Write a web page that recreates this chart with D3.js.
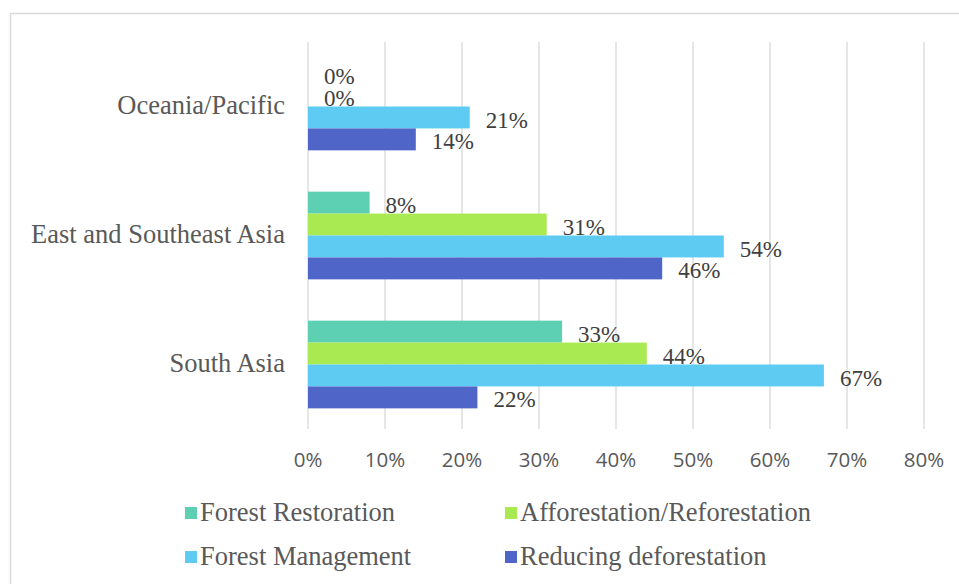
<!DOCTYPE html>
<html lang="en">
  <head>
    <meta charset="utf-8">
    <title>Forest interventions by region</title>
    <style>
      body { margin: 0; background: #fff; }
      svg { display: block; }
    </style>
    <script src="https://cdn.jsdelivr.net/npm/d3@7"></script>
  </head>
  <body>
    <div class="chart"></div>
    <script>
    // values
    const regions = ["Oceania/Pacific", "East and Southeast Asia", "South Asia"]
    const seriesNames = ["Forest Restoration", "Afforestation/Reforestation", "Forest Management", "Reducing deforestation"]
    const forestRestoration = [0, 8, 33]
    const afforestation = [0, 31, 44]
    const forestManagement = [21, 54, 67]
    const reducingDeforestation = [14, 46, 22]
    const colors = ["#5dcfb2", "#a9ea52", "#5dcbf2", "#4f66c8"]
    const xTicks = [0, 10, 20, 30, 40, 50, 60, 70, 80]

    const seriesValues = [forestRestoration, afforestation, forestManagement, reducingDeforestation]

    const width = 959, height = 584
    const plot = { left: 308, right: 924, top: 42, bottom: 429 }

    const svg = d3.select(".chart")
      .append("svg")
      .attr("width", width)
      .attr("height", height)

    // chart border
    svg.append("rect")
      .attr("x", 10.5).attr("y", 13.5)
      .attr("width", 960).attr("height", 600)
      .attr("fill", "none")
      .attr("stroke", "#d9d9d9")
      .attr("stroke-width", 1.5)

    const x = d3.scaleLinear()
      .domain([0, 80])
      .range([plot.left, plot.right])

    const y0 = d3.scaleBand()
      .domain(regions)
      .range([plot.top, plot.bottom])
      .paddingInner(0.32)
      .paddingOuter(0.16)

    const y1 = d3.scaleBand()
      .domain(seriesNames)
      .range([0, y0.bandwidth()])

    // gridlines
    svg.append("g")
      .selectAll("line")
      .data(xTicks)
      .join("line")
      .attr("x1", d => x(d)).attr("x2", d => x(d))
      .attr("y1", plot.top).attr("y2", plot.bottom)
      .attr("stroke", "#d9d9d9")
      .attr("stroke-width", 1.3)

    // x axis labels
    svg.append("g")
      .selectAll("text")
      .data(xTicks)
      .join("text")
      .attr("x", d => x(d))
      .attr("y", 467)
      .attr("text-anchor", "middle")
      .style("font-family", "'Open Sans', sans-serif")
      .style("font-size", "20.5px")
      .style("fill", "#595959")
      .text(d => d + "%")

    // category labels
    svg.append("g")
      .selectAll("text")
      .data(regions)
      .join("text")
      .attr("x", plot.left - 23)
      .attr("y", d => y0(d) + y0.bandwidth() / 2)
      .attr("dy", "0.3em")
      .attr("text-anchor", "end")
      .style("font-family", "'Liberation Serif', serif")
      .style("font-size", "26.5px")
      .style("fill", "#595959")
      .text(d => d)

    const rows = []
    regions.forEach((r, i) => {
      seriesNames.forEach((s, j) => {
        rows.push({ region: r, series: s, value: seriesValues[j][i], color: colors[j] })
      })
    })

    svg.append("g")
      .selectAll("rect")
      .data(rows)
      .join("rect")
      .attr("x", x(0))
      .attr("y", d => y0(d.region) + y1(d.series))
      .attr("width", d => x(d.value) - x(0))
      .attr("height", y1.bandwidth())
      .attr("fill", d => d.color)

    svg.append("g")
      .selectAll("text")
      .data(rows)
      .join("text")
      .attr("x", d => x(d.value) + 16)
      .attr("y", d => y0(d.region) + y1(d.series) + y1.bandwidth() / 2 + 2)
      .attr("dy", "0.35em")
      .style("font-family", "'Liberation Serif', serif")
      .style("font-size", "23px")
      .style("fill", "#404040")
      .text(d => d.value + "%")

    // legend
    const legendPos = [[185, 513], [505, 513], [185, 557], [505, 557]]
    const legend = svg.append("g")
      .selectAll("g")
      .data(seriesNames)
      .join("g")
      .attr("transform", (d, i) => `translate(${legendPos[i][0]},${legendPos[i][1]})`)

    legend.append("rect")
      .attr("x", 0).attr("y", -6)
      .attr("width", 12).attr("height", 12)
      .attr("fill", (d, i) => colors[i])

    legend.append("text")
      .attr("x", 15)
      .attr("dy", "0.3em")
      .style("font-family", "'Liberation Serif', serif")
      .style("font-size", "26.5px")
      .style("fill", "#595959")
      .text(d => d)
    </script>
  </body>
</html>
